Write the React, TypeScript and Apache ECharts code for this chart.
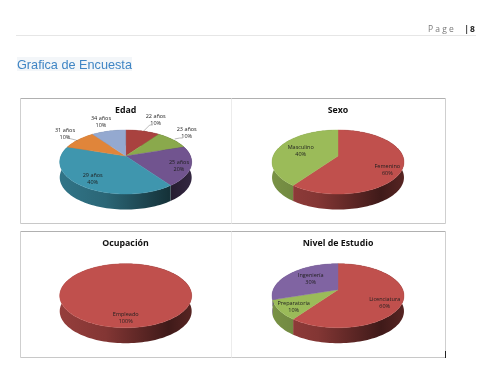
import React, { useEffect, useRef } from "react";
import * as echarts from "echarts";

// ---- data ----
const edadCategories = ["22 años", "23 años", "25 años", "29 años", "31 años", "34 años"];
const edadValues = [10, 10, 20, 40, 10, 10];
const sexoCategories = ["Femenino", "Masculino"];
const sexoValues = [60, 40];
const ocupacionCategories = ["Empleado"];
const ocupacionValues = [100];
const nivelCategories = ["Licenciatura", "Preparatoria", "Ingeniería"];
const nivelValues = [60, 10, 30];

// ---- styles and layout ----
const RED = "#c0504d";
const GREEN = "#9bbb59";
const PURPLE = "#8064a2";
const edadColors = ["#a9423f", "#8aa94c", "#71548f", "#3f96ae", "#e0853a", "#94a9d0"];
const sexoColors = [RED, GREEN];
const ocupacionColors = [RED];
const nivelColors = [RED, GREEN, PURPLE];

const FONT = "'Open Sans', 'Noto Sans', sans-serif";
const PERSP = 0.1875;
const BASE_B = 30.9;
const BASE_R = 64.8;
const DEPTH = 15.5;

type Pie = {
  title: string;
  titleX: number;
  titleY: number;
  cx: number;
  cy: number;
  names: string[];
  values: number[];
  colors: string[];
  labelAt: number[][];
  leaders: number[][][];
};

const pies: Pie[] = [
  {
    title: "Edad", titleX: 125.7, titleY: 109.7, cx: 125.7, cy: 156,
    names: edadCategories, values: edadValues, colors: edadColors,
    labelAt: [[30, -37], [61, -23.3], [53.3, 9.7], [-33, 22.3], [-60.7, -22.3], [-24.7, -34.7]],
    leaders: [
      [[18, -25], [24, -31], [27, -31]],
      [[49, -17], [54, -18], [57, -18]],
      [], [],
      [[-58, -18], [-50, -16], [-48, -15]],
      [],
    ],
  },
  {
    title: "Sexo", titleX: 338, titleY: 109.7, cx: 338, cy: 156,
    names: sexoCategories, values: sexoValues, colors: sexoColors,
    labelAt: [[49.3, 13.3], [-37.3, -5.7]], leaders: [[], []],
  },
  {
    title: "Ocupación", titleX: 125.5, titleY: 243, cx: 125.7, cy: 289.7,
    names: ocupacionCategories, values: ocupacionValues, colors: ocupacionColors,
    labelAt: [[0, 27.7]], leaders: [[]],
  },
  {
    title: "Nivel de Estudio", titleX: 338, titleY: 243, cx: 338, cy: 289.7,
    names: nivelCategories, values: nivelValues, colors: nivelColors,
    labelAt: [[46.7, 12.3], [-44.3, 17], [-27.3, -11]], leaders: [[], [], []],
  },
];

function shade(hex: string, f: number) {
  const n = parseInt(hex.slice(1), 16);
  const c = [(n >> 16) & 255, (n >> 8) & 255, n & 255].map((v) => Math.round(v * f));
  return `rgb(${c[0]},${c[1]},${c[2]})`;
}

function project(p: Pie, deg: number, drop = 0) {
  const t = (deg * Math.PI) / 180;
  const u = Math.sin(t);
  const v = -Math.cos(t);
  const w = 1 - PERSP * v;
  return [p.cx + (BASE_R * u) / w, p.cy + (BASE_B * v) / w + drop];
}

function arc(p: Pie, a: number, b: number, drop = 0) {
  const pts: number[][] = [];
  const n = Math.max(2, Math.ceil((b - a) / 2));
  for (let i = 0; i <= n; i++) pts.push(project(p, a + ((b - a) * i) / n, drop));
  return pts;
}

function span(p: Pie, index: number) {
  const total = p.values.reduce((s, v) => s + v, 0);
  const before = p.values.slice(0, index).reduce((s, v) => s + v, 0);
  return [(before / total) * 360, ((before + p.values[index]) / total) * 360];
}

function wallSeries(p: Pie) {
  const x0 = p.cx - 67;
  const x1 = p.cx + 67;
  return {
    type: "custom",
    coordinateSystem: "none",
    silent: true,
    z: 2,
    data: p.values.map((v) => [v]),
    renderItem: (params: any) => {
      const i = params.dataIndex;
      const [a, b] = span(p, i);
      const top = arc(p, a, b);
      const bottom = arc(p, a, b, DEPTH).reverse();
      const col = p.colors[i];
      return {
        type: "polygon",
        shape: { points: top.concat(bottom) },
        style: {
          fill: new echarts.graphic.LinearGradient(
            x0, 0, x1, 0,
            [
              { offset: 0, color: shade(col, 0.78) },
              { offset: 0.35, color: shade(col, 0.68) },
              { offset: 0.82, color: shade(col, 0.33) },
              { offset: 1, color: shade(col, 0.46) },
            ],
            true
          ),
        },
      };
    },
  };
}

function topSeries(p: Pie) {
  return {
    type: "custom",
    coordinateSystem: "none",
    silent: true,
    z: 3,
    data: p.values.map((v) => [v]),
    renderItem: (params: any) => {
      const i = params.dataIndex;
      const [a, b] = span(p, i);
      const pts = b - a >= 360 ? arc(p, a, b) : [[p.cx, p.cy], ...arc(p, a, b)];
      return {
        type: "polygon",
        shape: { points: pts },
        style: { fill: p.colors[i], stroke: p.colors[i], lineWidth: 0.4 },
      };
    },
  };
}

function labelSeries(p: Pie) {
  return {
    type: "custom",
    coordinateSystem: "none",
    silent: true,
    z: 4,
    data: p.values.map((v) => [v]),
    renderItem: (params: any, api: any) => {
      const i = params.dataIndex;
      const [dx, dy] = p.labelAt[i];
      const children: any[] = [
        {
          type: "text",
          x: p.cx + dx,
          y: p.cy + dy,
          style: {
            text: `${p.names[i]}\n${api.value(0)}%`,
            font: `5.5px ${FONT}`,
            fill: "#1f1f1f",
            align: "center",
            verticalAlign: "middle",
            lineHeight: 7,
          },
        },
      ];
      const lead = p.leaders[i];
      if (lead.length) {
        children.push({
          type: "polyline",
          shape: { points: lead.map(([x, y]) => [p.cx + x, p.cy + y]) },
          style: { stroke: "#777", lineWidth: 0.5, fill: "none" },
        });
      }
      return { type: "group", children };
    },
  };
}

const line = (x1: number, y1: number, x2: number, y2: number, stroke: string, lineWidth = 1) => ({
  type: "line",
  shape: { x1, y1, x2, y2 },
  style: { stroke, lineWidth },
});

const staticGraphics: any[] = [
  line(16, 35.5, 476, 35.5, "#e6e6e6"),
  { type: "text", x: 428, y: 28.5, style: { text: "P a g e", font: `8.5px ${FONT}`, fill: "#7a7a7a", verticalAlign: "middle" } },
  { type: "text", x: 464, y: 28.5, style: { text: "|", font: `bold 9.5px ${FONT}`, fill: "#444", verticalAlign: "middle" } },
  { type: "text", x: 470, y: 28.5, style: { text: "8", font: `bold 8.5px ${FONT}`, fill: "#222", verticalAlign: "middle" } },
  { type: "rect", shape: { x: 17, y: 57, width: 115, height: 14 }, style: { fill: "#f3f6f9" } },
  { type: "text", x: 17, y: 64.5, style: { text: "Grafica de Encuesta", font: "12.7px 'Liberation Sans', Arial, sans-serif", fill: "#3f85c4", verticalAlign: "middle" } },
  line(20.5, 98.5, 445.5, 98.5, "#b0b0b0"),
  line(20.5, 98.5, 20.5, 223.5, "#cfcfcf"),
  line(445.5, 98.5, 445.5, 223.5, "#cfcfcf"),
  line(20.5, 223.5, 445.5, 223.5, "#c8c8c8"),
  line(231.5, 98.5, 231.5, 223.5, "#ececec"),
  line(20.5, 231.5, 445.5, 231.5, "#b0b0b0"),
  line(20.5, 231.5, 20.5, 357.5, "#cfcfcf"),
  line(445.5, 231.5, 445.5, 352, "#cfcfcf"),
  line(20.5, 357.5, 445.5, 357.5, "#c8c8c8"),
  line(231.5, 231.5, 231.5, 357.5, "#ececec"),
  line(445.5, 351, 445.5, 358, "#222"),
  ...pies.map((p) => ({
    type: "text",
    x: p.titleX,
    y: p.titleY,
    style: { text: p.title, font: `bold 8.8px ${FONT}`, fill: "#111", align: "center", verticalAlign: "middle" },
  })),
];

export default function App() {
  const ref = useRef<HTMLDivElement>(null);
  useEffect(() => {
    document.body.style.margin = "0";
    document.body.style.background = "#fff";
    const chart = echarts.init(ref.current!, undefined, { renderer: "svg" });
    chart.setOption({
      animation: false,
      backgroundColor: "#ffffff",
      graphic: { elements: staticGraphics },
      series: pies.flatMap((p) => [wallSeries(p), topSeries(p), labelSeries(p)]),
    });
    return () => chart.dispose();
  }, []);
  return <div ref={ref} style={{ width: 496, height: 377, filter: "blur(0.3px)" }} />;
}
